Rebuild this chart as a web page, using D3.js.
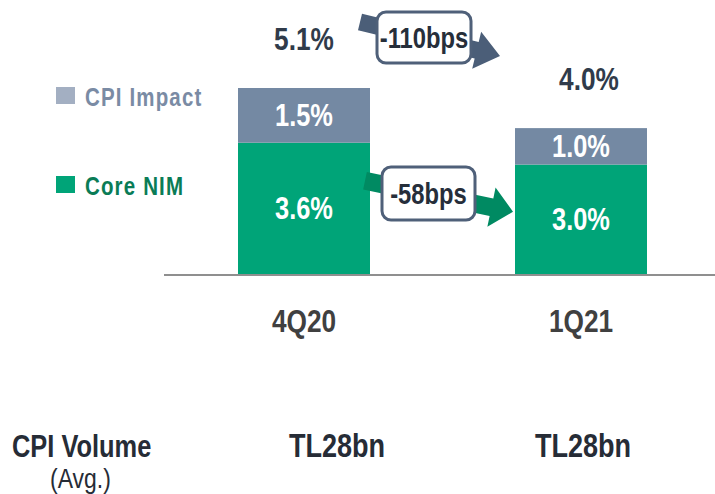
<!DOCTYPE html>
<html>
<head>
<meta charset="utf-8">
<script src="https://cdn.jsdelivr.net/npm/d3@7"></script>
<style>
  body { margin: 0; background: #fff; }
  text { font-family: "Liberation Sans", Arial, sans-serif; }
</style>
</head>
<body>
<div id="chart"></div>
<script>
// Dados do gráfico
const categories = ["4Q20", "1Q21"];
const coreNim = [3.6, 3.0];
const cpiImpact = [1.5, 1.0];
const totals = ["5.1%", "4.0%"];
const coreLabels = ["3.6%", "3.0%"];
const cpiLabels = ["1.5%", "1.0%"];
const changes = ["-110bps", "-58bps"];
const volumeLabel = "CPI Volume";
const volumeSub = "(Avg.)";
const volumes = ["TL28bn", "TL28bn"];
const legendItems = ["CPI Impact", "Core NIM"];

const width = 715;
const height = 494;

const green = "#00a478";
const greenDark = "#008a62";
const slate = "#7489a3";
const slateDark = "#4b5e78";
const narrow = 0.82; // fonte estreita (tipo Arial Narrow)

const svg = d3.select("#chart")
  .append("svg")
  .attr("width", width)
  .attr("height", height);

// posiciona texto com compressão horizontal
function place(sel, fx, fy) {
  return sel.attr("transform", (d, i) => `translate(${fx(d, i)},${fy(d, i)}) scale(${narrow},1)`);
}

const x = d3.scaleBand()
  .domain(categories)
  .range([238, 647])
  .paddingInner(1 - 132 / 277)
  .paddingOuter(0);

const y = d3.scaleLinear()
  .domain([0, 5.1])
  .range([274, 88]);

const cx = d => x(d) + x.bandwidth() / 2;

// barras empilhadas
svg.selectAll(".core")
  .data(categories)
  .enter().append("rect")
  .attr("x", d => x(d))
  .attr("width", x.bandwidth())
  .attr("y", (d, i) => y(coreNim[i]))
  .attr("height", (d, i) => y(0) - y(coreNim[i]))
  .style("fill", green);

svg.selectAll(".cpi")
  .data(categories)
  .enter().append("rect")
  .attr("x", d => x(d))
  .attr("width", x.bandwidth())
  .attr("y", (d, i) => y(coreNim[i] + cpiImpact[i]))
  .attr("height", (d, i) => y(coreNim[i]) - y(coreNim[i] + cpiImpact[i]))
  .style("fill", slate);

// linha base
svg.append("line")
  .attr("x1", 164).attr("x2", width)
  .attr("y1", y(0) + 1).attr("y2", y(0) + 1)
  .style("stroke", "#8f8f8f")
  .style("stroke-width", 2);

// rótulos dentro das barras
place(svg.selectAll(".coreLabel")
  .data(categories)
  .enter().append("text"),
  d => cx(d), (d, i) => (y(0) + y(coreNim[i])) / 2 + 11)
  .attr("text-anchor", "middle")
  .style("font-size", "31px").style("font-weight", "bold")
  .style("fill", "#fff")
  .text((d, i) => coreLabels[i]);

place(svg.selectAll(".cpiLabel")
  .data(categories)
  .enter().append("text"),
  d => cx(d), (d, i) => (y(coreNim[i]) + y(coreNim[i] + cpiImpact[i])) / 2 + 11)
  .attr("text-anchor", "middle")
  .style("font-size", "31px").style("font-weight", "bold")
  .style("fill", "#fff")
  .text((d, i) => cpiLabels[i]);

// totais
place(svg.selectAll(".total")
  .data(categories)
  .enter().append("text"),
  (d, i) => cx(d) + (i === 1 ? 8 : 0), (d, i) => y(coreNim[i] + cpiImpact[i]) - 38)
  .attr("text-anchor", "middle")
  .style("font-size", "32px").style("font-weight", "bold")
  .style("fill", "#303b4a")
  .text((d, i) => totals[i]);

// categorias
place(svg.selectAll(".cat")
  .data(categories)
  .enter().append("text"),
  d => cx(d), () => y(0) + 58)
  .attr("text-anchor", "middle")
  .style("font-size", "32px").style("font-weight", "bold")
  .style("fill", "#404040")
  .text(d => d);

// setas
function arrowPath(sx, sy, ex, ey, w, hl, hw) {
  const dx = ex - sx, dy = ey - sy;
  const len = Math.hypot(dx, dy);
  const ux = dx / len, uy = dy / len;
  const px = -uy, py = ux;
  const bx = ex - ux * hl, by = ey - uy * hl;
  const pts = [
    [sx + px * w / 2, sy + py * w / 2],
    [bx + px * w / 2, by + py * w / 2],
    [bx + px * hw / 2, by + py * hw / 2],
    [ex, ey],
    [bx - px * hw / 2, by - py * hw / 2],
    [bx - px * w / 2, by - py * w / 2],
    [sx - px * w / 2, sy - py * w / 2]
  ];
  return d3.line()(pts) + "Z";
}

const x0 = x(categories[0]) + x.bandwidth();
const x1 = x(categories[1]);
const topY0 = y(coreNim[0] + cpiImpact[0]);
const coreY0 = y(coreNim[0]);

svg.append("path")
  .attr("d", arrowPath(x0 - 10, topY0 - 66, x1 - 15, topY0 - 32, 17, 24, 38))
  .style("fill", slateDark);

svg.append("path")
  .attr("d", arrowPath(x0 - 5, coreY0 + 38, x1 - 2, coreY0 + 69, 18, 22, 40))
  .style("fill", greenDark);

// caixas de variação
const boxes = [
  { x: 377, y: 12, w: 94, h: 51 },
  { x: 382, y: 167, w: 93, h: 53 }
];

svg.selectAll(".box")
  .data(changes)
  .enter().append("rect")
  .attr("x", (d, i) => boxes[i].x)
  .attr("y", (d, i) => boxes[i].y)
  .attr("width", (d, i) => boxes[i].w)
  .attr("height", (d, i) => boxes[i].h)
  .attr("rx", 9)
  .style("fill", "#fff")
  .style("stroke", "#4f6079")
  .style("stroke-width", 3);

place(svg.selectAll(".boxText")
  .data(changes)
  .enter().append("text"),
  (d, i) => boxes[i].x + boxes[i].w / 2, (d, i) => boxes[i].y + boxes[i].h / 2 + 10)
  .attr("text-anchor", "middle")
  .style("font-size", "29px").style("font-weight", "bold")
  .style("fill", "#262e3a")
  .text(d => d);

// legenda
const legendColors = ["#a3afc2", green];
const legendText = ["#7a8ba4", "#0a7c56"];
const legendY = [87, 176];

legendItems.forEach((name, i) => {
  svg.append("rect")
    .attr("x", 56).attr("y", legendY[i])
    .attr("width", 19).attr("height", 17)
    .style("fill", legendColors[i]);
  svg.append("text")
    .attr("transform", `translate(85,${legendY[i] + 19}) scale(${narrow},1)`)
    .style("font-size", "25px").style("font-weight", "bold")
    .style("letter-spacing", "1.4px")
    .style("fill", legendText[i])
    .text(name);
});

// volume CPI
svg.append("text")
  .attr("transform", `translate(12,457) scale(${narrow},1)`)
  .style("font-size", "31px").style("font-weight", "bold")
  .style("fill", "#262c36")
  .text(volumeLabel);

svg.append("text")
  .attr("transform", `translate(50,488) scale(${narrow},1)`)
  .style("font-size", "28px")
  .style("fill", "#262c36")
  .text(volumeSub);

place(svg.selectAll(".vol")
  .data(categories)
  .enter().append("text"),
  (d, i) => cx(d) + (i === 0 ? 33 : 2), () => 457)
  .attr("text-anchor", "middle")
  .style("font-size", "33px").style("font-weight", "bold")
  .style("fill", "#262c36")
  .text((d, i) => volumes[i]);
</script>
</body>
</html>
